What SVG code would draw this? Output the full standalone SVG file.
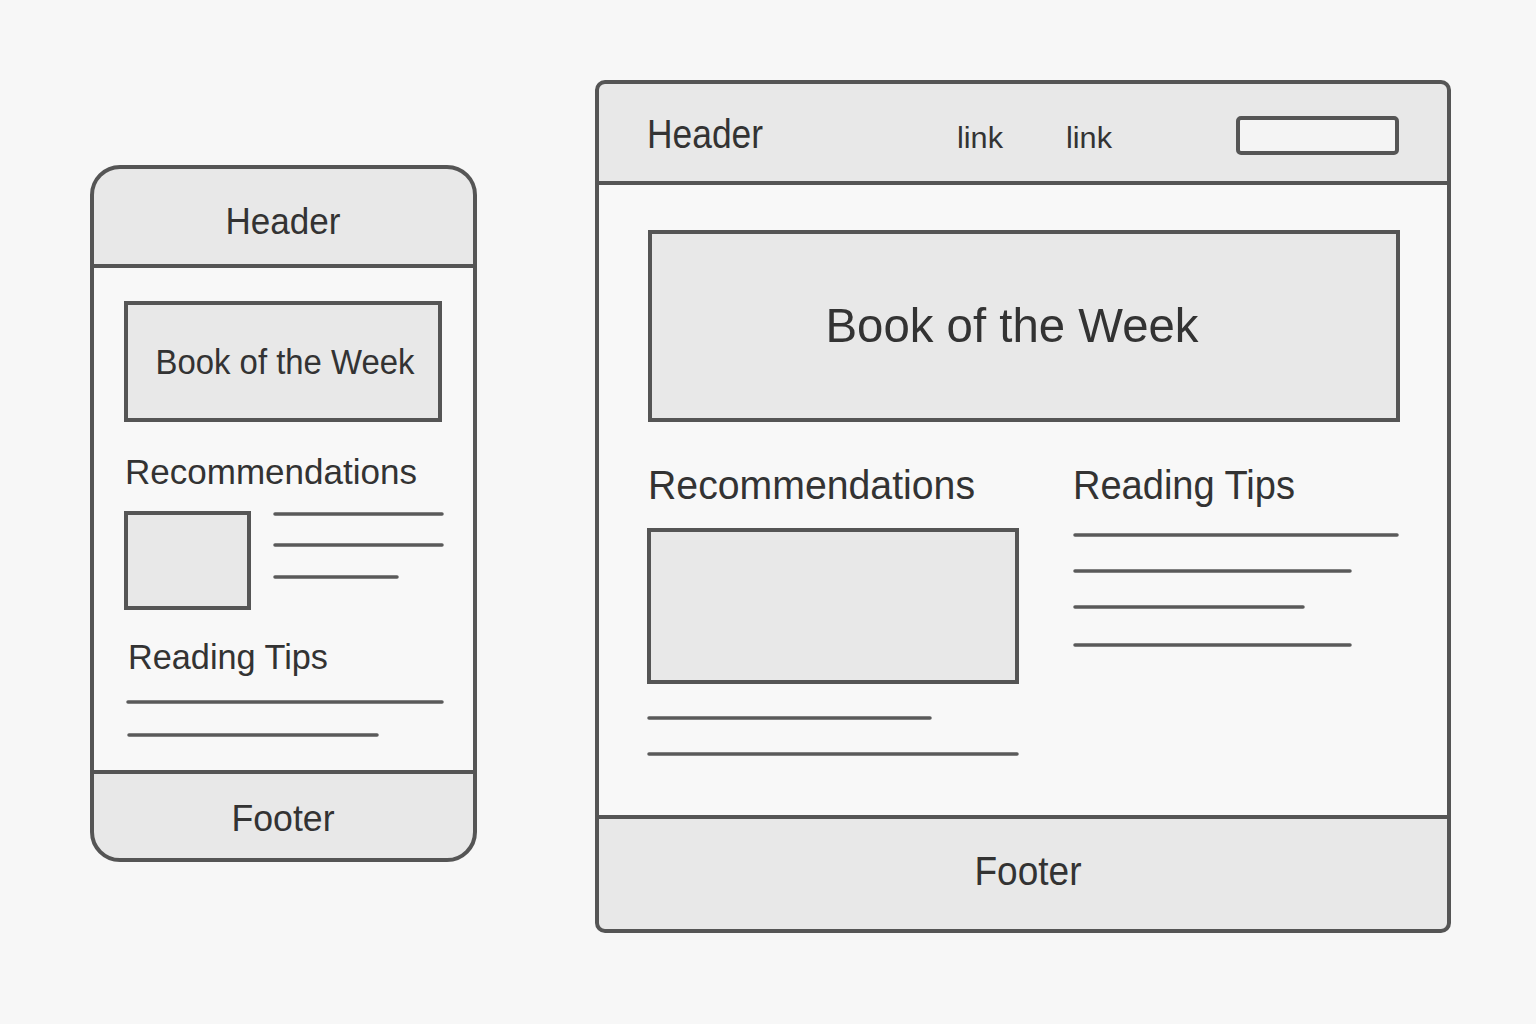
<svg xmlns="http://www.w3.org/2000/svg" width="1536" height="1024" viewBox="0 0 1536 1024">
  <style>
    .frame { fill: #f8f8f8; stroke: #555; stroke-width: 4; }
    .band { fill: #e8e8e8; }
    .box { fill: #e8e8e8; stroke: #555; stroke-width: 4; }
    .rule { stroke: #555; stroke-width: 4; fill: none; }
    .line { stroke: #5a5a5a; stroke-width: 3.5; stroke-linecap: round; fill: none; }
    .t { font-family: "Liberation Sans", Arial, sans-serif; fill: #333; }
    .c { text-anchor: middle; }
  </style>
  <rect width="1536" height="1024" fill="#f7f7f7"/>

  <!-- Mobile layout -->
  <g id="mobile">
    <defs>
      <clipPath id="mclip"><rect x="92" y="167" width="383" height="693" rx="28"/></clipPath>
    </defs>
    <rect x="92" y="167" width="383" height="693" rx="28" fill="#f8f8f8"/>
    <g clip-path="url(#mclip)">
      <rect class="band" x="92" y="167" width="383" height="99"/>
      <rect class="band" x="92" y="772" width="383" height="88"/>
    </g>
    <rect x="92" y="167" width="383" height="693" rx="28" fill="none" stroke="#555" stroke-width="4"/>
    <line class="rule" x1="92" y1="266" x2="475" y2="266"/>
    <line class="rule" x1="92" y1="772" x2="475" y2="772"/>
    <g id="m-header"><text class="t c" x="283" y="234" font-size="36" textLength="115" lengthAdjust="spacingAndGlyphs">Header</text></g>
    <g id="m-book">
      <rect class="box" x="126" y="303" width="314" height="117"/>
      <text class="t c" x="285" y="374" font-size="35" textLength="259" lengthAdjust="spacingAndGlyphs">Book of the Week</text>
    </g>
    <g id="m-recs">
      <text class="t" x="125" y="484" font-size="35" textLength="292" lengthAdjust="spacingAndGlyphs">Recommendations</text>
      <rect class="box" x="126" y="513" width="123" height="95"/>
      <line class="line" x1="275" y1="514" x2="442" y2="514"/>
      <line class="line" x1="275" y1="545" x2="442" y2="545"/>
      <line class="line" x1="275" y1="577" x2="397" y2="577"/>
    </g>
    <g id="m-tips">
      <text class="t" x="128" y="669" font-size="35" textLength="200" lengthAdjust="spacingAndGlyphs">Reading Tips</text>
      <line class="line" x1="128" y1="702" x2="442" y2="702"/>
      <line class="line" x1="129" y1="735" x2="377" y2="735"/>
    </g>
    <g id="m-footer"><text class="t c" x="283" y="831" font-size="36" textLength="103" lengthAdjust="spacingAndGlyphs">Footer</text></g>
  </g>

  <!-- Desktop layout -->
  <g id="desktop">
    <defs>
      <clipPath id="dclip"><rect x="597" y="82" width="852" height="849" rx="8"/></clipPath>
    </defs>
    <rect x="597" y="82" width="852" height="849" rx="8" fill="#f8f8f8"/>
    <g clip-path="url(#dclip)">
      <rect class="band" x="597" y="82" width="852" height="101"/>
      <rect class="band" x="597" y="817" width="852" height="114"/>
    </g>
    <rect x="597" y="82" width="852" height="849" rx="8" fill="none" stroke="#555" stroke-width="4"/>
    <line class="rule" x1="597" y1="183" x2="1449" y2="183"/>
    <line class="rule" x1="597" y1="817" x2="1449" y2="817"/>
    <g id="d-header">
      <text class="t" x="647" y="148" font-size="40" textLength="116" lengthAdjust="spacingAndGlyphs">Header</text>
      <text class="t" x="957" y="148" font-size="30" textLength="46" lengthAdjust="spacingAndGlyphs">link</text>
      <text class="t" x="1066" y="148" font-size="30" textLength="46" lengthAdjust="spacingAndGlyphs">link</text>
      <rect x="1238" y="118" width="159" height="35" rx="3" fill="#f4f4f4" stroke="#555" stroke-width="4"/>
    </g>
    <g id="d-book">
      <rect class="box" x="650" y="232" width="748" height="188"/>
      <text class="t c" x="1012" y="342" font-size="49" textLength="373" lengthAdjust="spacingAndGlyphs">Book of the Week</text>
    </g>
    <g id="d-recs">
      <text class="t" x="648" y="499" font-size="40" textLength="327" lengthAdjust="spacingAndGlyphs">Recommendations</text>
      <rect class="box" x="649" y="530" width="368" height="152"/>
      <line class="line" x1="649" y1="718" x2="930" y2="718"/>
      <line class="line" x1="649" y1="754" x2="1017" y2="754"/>
    </g>
    <g id="d-tips">
      <text class="t" x="1073" y="499" font-size="40" textLength="222" lengthAdjust="spacingAndGlyphs">Reading Tips</text>
      <line class="line" x1="1075" y1="535" x2="1397" y2="535"/>
      <line class="line" x1="1075" y1="571" x2="1350" y2="571"/>
      <line class="line" x1="1075" y1="607" x2="1303" y2="607"/>
      <line class="line" x1="1075" y1="645" x2="1350" y2="645"/>
    </g>
    <g id="d-footer"><text class="t c" x="1028" y="885" font-size="40" textLength="107" lengthAdjust="spacingAndGlyphs">Footer</text></g>
  </g>
</svg>
